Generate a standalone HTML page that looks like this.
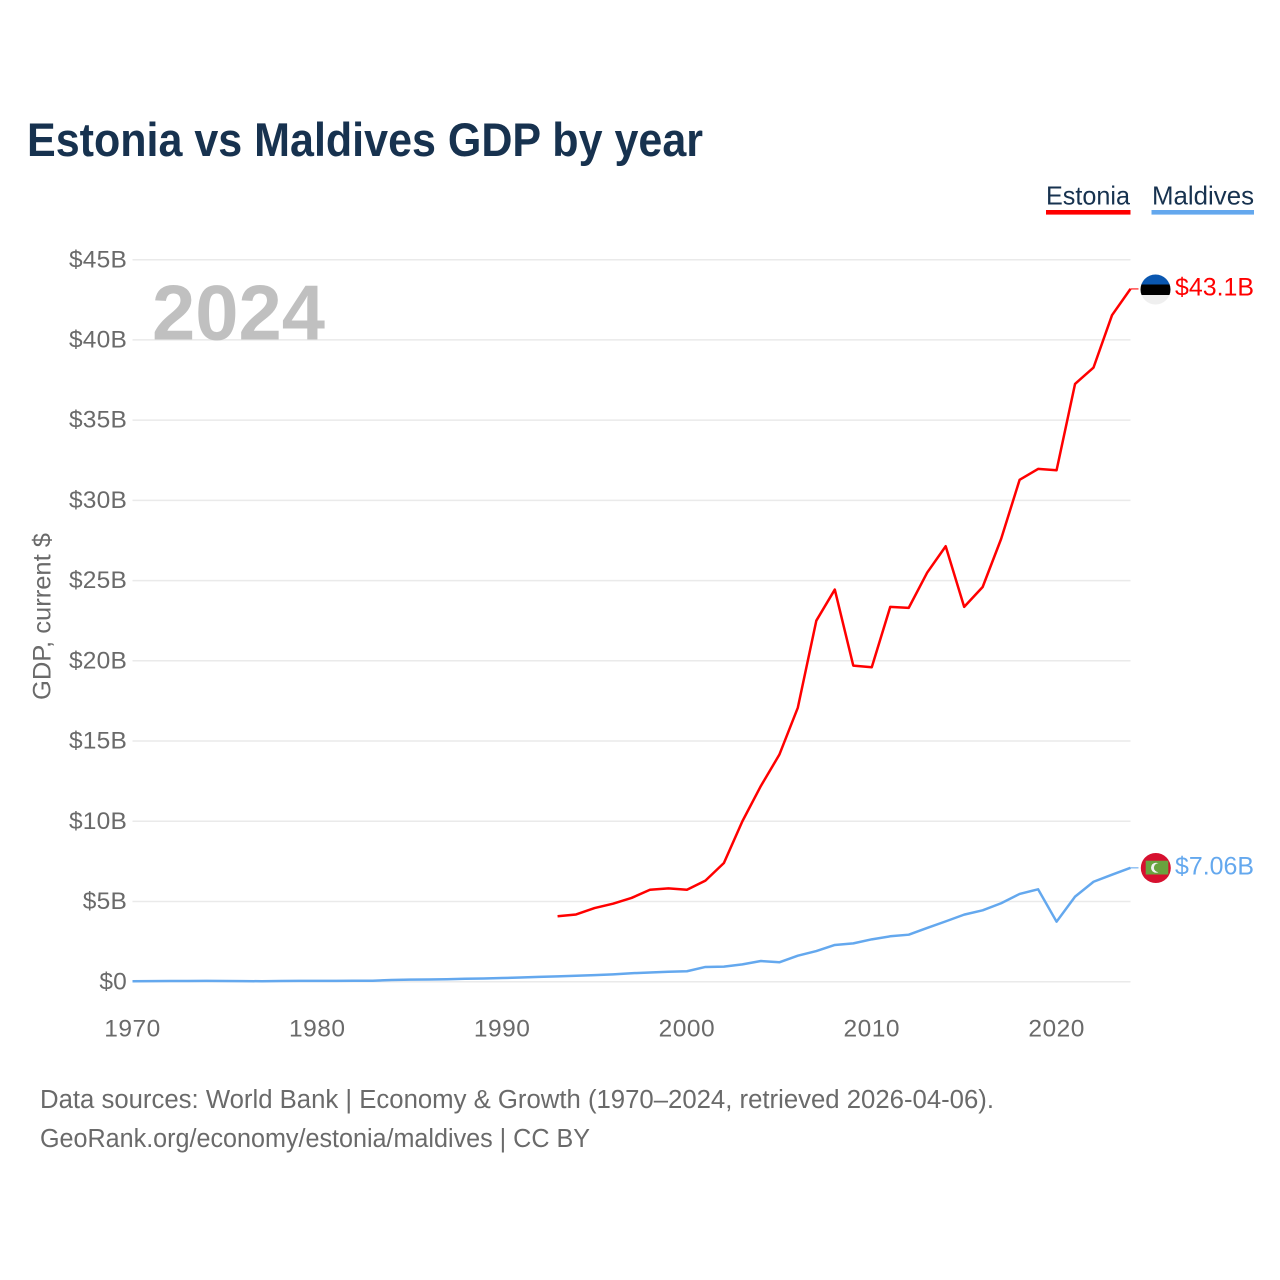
<!DOCTYPE html>
<html lang="en">
<head>
<meta charset="utf-8">
<title>Estonia vs Maldives GDP by year</title>
<style>
html,body{margin:0;padding:0;background:#fff;width:1280px;height:1280px;overflow:hidden}
svg{display:block}
text{font-family:"Liberation Sans",sans-serif}
</style>
</head>
<body>
<svg id="chart" width="1280" height="1280" viewBox="0 0 1280 1280" xmlns="http://www.w3.org/2000/svg">
  <rect x="0" y="0" width="1280" height="1280" fill="#fff"/>
  <text x="27" y="156" font-size="47" font-weight="700" fill="#17324f" textLength="676" lengthAdjust="spacingAndGlyphs">Estonia vs Maldives GDP by year</text>

  <g style="cursor:pointer">
    <text x="1046" y="204.5" font-size="26" fill="#17324f" textLength="84" lengthAdjust="spacingAndGlyphs">Estonia</text>
    <rect x="1046" y="210" width="84.5" height="4.6" fill="#ff0000"/>
  </g>
  <g style="cursor:pointer">
    <text x="1152" y="204.5" font-size="26" fill="#17324f" textLength="102" lengthAdjust="spacingAndGlyphs">Maldives</text>
    <rect x="1151.5" y="210" width="102.5" height="4.6" fill="#64a8ee"/>
  </g>

  <g id="grid"></g>
  <g id="yticks"></g>
  <g id="xticks"></g>

  <text x="152" y="339.5" font-size="78" font-weight="700" fill="#c0c0c0" textLength="173" lengthAdjust="spacingAndGlyphs">2024</text>

  <text transform="translate(50.5,700) rotate(-90)" font-size="25" fill="#6a6a6a" textLength="167" lengthAdjust="spacingAndGlyphs">GDP, current $</text>

  <g id="series"></g>

  <defs>
    <clipPath id="flag-clip-ee"><circle cx="1155.5" cy="289.5" r="15"/></clipPath>
    <clipPath id="flag-clip-mv"><circle cx="1155.8" cy="868" r="15"/></clipPath>
  </defs>
  <g clip-path="url(#flag-clip-ee)">
    <rect x="1140" y="274" width="31" height="11" fill="#0a57b0"/>
    <rect x="1140" y="284.5" width="31" height="10.5" fill="#000"/>
    <rect x="1140" y="295" width="31" height="10" fill="#efefef"/>
  </g>
  <g clip-path="url(#flag-clip-mv)">
    <rect x="1140" y="852" width="32" height="32" fill="#d6102f"/>
    <rect x="1145.7" y="860.7" width="22.6" height="13.8" fill="#69a33f"/>
    <circle cx="1156" cy="867.7" r="5" fill="#f2f2f2"/>
    <circle cx="1158.3" cy="867.7" r="4.4" fill="#69a33f"/>
  </g>

  <text x="1175" y="295.5" font-size="25" fill="#ff0000" textLength="79" lengthAdjust="spacingAndGlyphs">$43.1B</text>
  <text x="1175" y="874.5" font-size="25" fill="#64a8ee" textLength="79" lengthAdjust="spacingAndGlyphs">$7.06B</text>

  <text x="40" y="1108" font-size="25.5" fill="#6a6a6a" textLength="954" lengthAdjust="spacingAndGlyphs">Data sources: World Bank | Economy &amp; Growth (1970–2024, retrieved 2026-04-06).</text>
  <text x="40" y="1147" font-size="25.5" fill="#6a6a6a" textLength="550" lengthAdjust="spacingAndGlyphs">GeoRank.org/economy/estonia/maldives | CC BY</text>
</svg>
<script>
var years = [1970,1971,1972,1973,1974,1975,1976,1977,1978,1979,1980,1981,1982,1983,1984,1985,1986,1987,1988,1989,1990,1991,1992,1993,1994,1995,1996,1997,1998,1999,2000,2001,2002,2003,2004,2005,2006,2007,2008,2009,2010,2011,2012,2013,2014,2015,2016,2017,2018,2019,2020,2021,2022,2023,2024];
var estoniaValues = [null,null,null,null,null,null,null,null,null,null,null,null,null,null,null,null,null,null,null,null,null,null,null,4.08,4.19,4.59,4.86,5.22,5.73,5.82,5.73,6.3,7.4,10.0,12.2,14.15,17.08,22.5,24.44,19.7,19.6,23.36,23.3,25.5,27.14,23.36,24.6,27.6,31.28,31.96,31.88,37.26,38.28,41.54,43.18];
var maldivesValues = [0.03,0.035,0.04,0.045,0.05,0.04,0.035,0.03,0.04,0.05,0.05,0.055,0.06,0.06,0.11,0.13,0.14,0.15,0.18,0.2,0.23,0.26,0.3,0.33,0.37,0.41,0.46,0.53,0.57,0.62,0.65,0.92,0.94,1.08,1.29,1.21,1.62,1.91,2.29,2.39,2.64,2.83,2.93,3.35,3.76,4.18,4.45,4.89,5.47,5.76,3.74,5.3,6.23,6.67,7.1];
var yTickValues = [0,5,10,15,20,25,30,35,40,45];
var yTickLabels = ["$0","$5B","$10B","$15B","$20B","$25B","$30B","$35B","$40B","$45B"];
var xTickValues = [1970,1980,1990,2000,2010,2020];
var xTickLabels = ["1970","1980","1990","2000","2010","2020"];

var NS = 'http://www.w3.org/2000/svg';
var yZero = 981.7, yTop = 259.7, yMax = 45;
var xStart = 132.5, xEnd = 1130.5, firstYear = 1970, lastYear = 2024;
function xScale(v){ return xStart + (v - firstYear) * (xEnd - xStart) / (lastYear - firstYear); }
function yScale(v){ return yZero - v * (yZero - yTop) / yMax; }

var grid = document.getElementById('grid');
var yticks = document.getElementById('yticks');
var xticks = document.getElementById('xticks');
var series = document.getElementById('series');

yTickValues.forEach(function(v, i){
  var l = document.createElementNS(NS, 'line');
  
  
  l.setAttribute('x1', xStart);
  l.setAttribute('x2', xEnd);
  l.setAttribute('y1', yScale(v));
  l.setAttribute('y2', yScale(v));
  l.setAttribute('stroke', '#eaeaea');
  l.setAttribute('stroke-width', '1.5');
  grid.appendChild(l);

  var t = document.createElementNS(NS, 'text');
  
  
  t.setAttribute('x', 127);
  t.setAttribute('y', yScale(v) + 7.6);
  t.setAttribute('text-anchor', 'end');
  t.setAttribute('font-size', '24.5');
  t.setAttribute('letter-spacing', '0.2');
  t.setAttribute('fill', '#6a6a6a');
  t.textContent = yTickLabels[i];
  yticks.appendChild(t);
});

xTickValues.forEach(function(v, i){
  var t = document.createElementNS(NS, 'text');
  
  
  t.setAttribute('x', xScale(v));
  t.setAttribute('y', 1036.7);
  t.setAttribute('text-anchor', 'middle');
  t.setAttribute('font-size', '24.5');
  t.setAttribute('letter-spacing', '0.5');
  t.setAttribute('fill', '#6a6a6a');
  t.textContent = xTickLabels[i];
  xticks.appendChild(t);
});

function pathFor(values){
  var d = '';
  values.forEach(function(v, i){
    if (v === null) return;
    d += (d ? 'L' : 'M') + xScale(years[i]).toFixed(2) + ' ' + yScale(v).toFixed(2);
  });
  return d;
}
function lastPoint(values){
  var i = values.length - 1;
  return [xScale(years[i]), yScale(values[i])];
}

var maldivesLine = document.createElementNS(NS, 'path');


maldivesLine.setAttribute('d', pathFor(maldivesValues));
maldivesLine.setAttribute('fill', 'none');
maldivesLine.setAttribute('stroke', '#64a8ee');
maldivesLine.setAttribute('stroke-width', '2.5');
maldivesLine.setAttribute('stroke-linejoin', 'round');
series.appendChild(maldivesLine);

var estoniaLine = document.createElementNS(NS, 'path');


estoniaLine.setAttribute('d', pathFor(estoniaValues));
estoniaLine.setAttribute('fill', 'none');
estoniaLine.setAttribute('stroke', '#ff0000');
estoniaLine.setAttribute('stroke-width', '2.5');
estoniaLine.setAttribute('stroke-linejoin', 'round');
series.appendChild(estoniaLine);

var eeEnd = lastPoint(estoniaValues);
var eeLink = document.createElementNS(NS, 'line');


eeLink.setAttribute('x1', eeEnd[0]);
eeLink.setAttribute('x2', eeEnd[0] + 8);
eeLink.setAttribute('y1', eeEnd[1]);
eeLink.setAttribute('y2', eeEnd[1]);
eeLink.setAttribute('stroke', '#ff0000');
eeLink.setAttribute('stroke-opacity', '0.7');
eeLink.setAttribute('stroke-width', '1.5');
series.appendChild(eeLink);

var mvEnd = lastPoint(maldivesValues);
var mvLink = document.createElementNS(NS, 'line');


mvLink.setAttribute('x1', mvEnd[0]);
mvLink.setAttribute('x2', mvEnd[0] + 8);
mvLink.setAttribute('y1', mvEnd[1]);
mvLink.setAttribute('y2', mvEnd[1]);
mvLink.setAttribute('stroke', '#64a8ee');
mvLink.setAttribute('stroke-opacity', '0.7');
mvLink.setAttribute('stroke-width', '1.5');
series.appendChild(mvLink);
</script>
</body>
</html>
